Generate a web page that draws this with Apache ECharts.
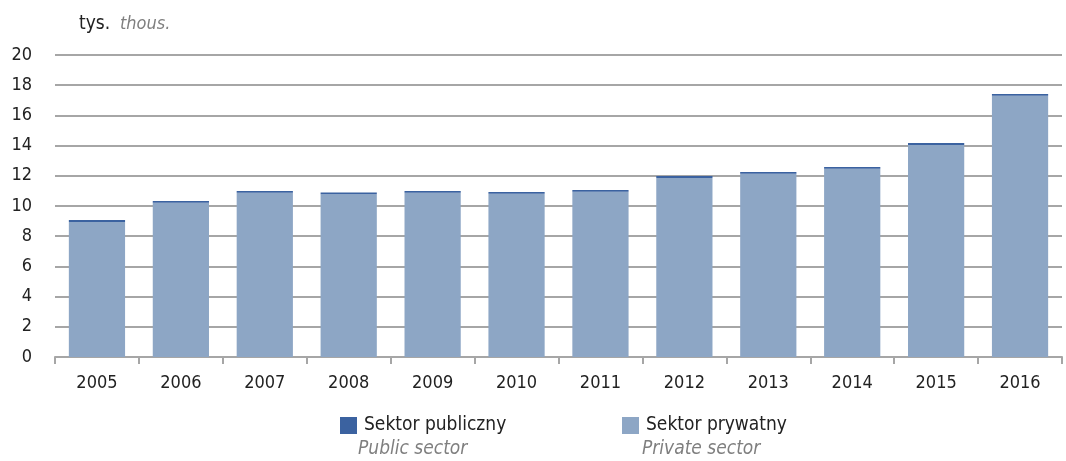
<!DOCTYPE html>
<html>
<head>
<meta charset="utf-8">
<script src="https://cdn.jsdelivr.net/npm/echarts@6/dist/echarts.min.js"></script>
<style>
  html, body { margin: 0; padding: 0; background: #fff; }
  #chart { width: 1066px; height: 461px; }
</style>
</head>
<body>
<div id="chart"></div>
<script>
  // dane (tys.)
  const years = ["2005", "2006", "2007", "2008", "2009", "2010", "2011", "2012", "2013", "2014", "2015", "2016"];
  const publicSector = [0.13, 0.12, 0.12, 0.12, 0.12, 0.12, 0.12, 0.13, 0.12, 0.12, 0.13, 0.12];
  const privateSector = [8.94, 10.21, 10.88, 10.78, 10.88, 10.81, 10.94, 11.86, 12.13, 12.46, 14.04, 17.30];
  const yTicks = { min: 0, max: 20, interval: 2 };

  const font = '"Liberation Sans Narrow", "DejaVu Sans Condensed", sans-serif';
  const chart = echarts.init(document.getElementById("chart"));

  chart.setOption({
    animation: false,
    textStyle: { fontFamily: font },
    grid: { left: 55, right: 4, top: 55, bottom: 104 },
    legend: [
      {
        data: ["Sektor publiczny"],
        icon: "rect",
        left: 335, top: 411,
        itemWidth: 17, itemHeight: 17, itemGap: 0,
        textStyle: { fontSize: 19, color: "#222", fontFamily: font, padding: [0, 0, 0, 2] }
      },
      {
        data: ["Sektor prywatny"],
        icon: "rect",
        left: 617, top: 411,
        itemWidth: 17, itemHeight: 17, itemGap: 0,
        textStyle: { fontSize: 19, color: "#222", fontFamily: font, padding: [0, 0, 0, 2] }
      }
    ],
    graphic: [
      { type: "text", left: 79, top: 15, style: { text: "tys.", font: "19px " + font, fill: "#222" } },
      { type: "text", left: 120, top: 15, style: { text: "thous.", font: "italic 18px " + font, fill: "#7f7f7f" } },
      { type: "text", left: 358, top: 440, style: { text: "Public sector", font: "italic 19px " + font, fill: "#7f7f7f" } },
      { type: "text", left: 642, top: 440, style: { text: "Private sector", font: "italic 19px " + font, fill: "#7f7f7f" } }
    ],
    xAxis: {
      type: "category",
      data: years,
      axisLine: { lineStyle: { color: "#a6a6a6", width: 2 } },
      axisTick: { show: true, length: 7, lineStyle: { color: "#a6a6a6", width: 2 } },
      axisLabel: { color: "#222", fontSize: 18, margin: 17 }
    },
    yAxis: {
      type: "value",
      min: yTicks.min, max: yTicks.max, interval: yTicks.interval,
      axisLine: { show: false },
      axisTick: { show: false },
      axisLabel: { color: "#222", fontSize: 18, margin: 23 },
      splitLine: { lineStyle: { color: "#a6a6a6", width: 2 } }
    },
    series: [
      {
        name: "Sektor prywatny",
        type: "bar",
        stack: "total",
        barCategoryGap: "33%",
        itemStyle: { color: "#8da6c5" },
        data: privateSector
      },
      {
        name: "Sektor publiczny",
        type: "bar",
        stack: "total",
        itemStyle: { color: "#3b62a0" },
        data: publicSector
      }
    ]
  });
</script>
</body>
</html>
